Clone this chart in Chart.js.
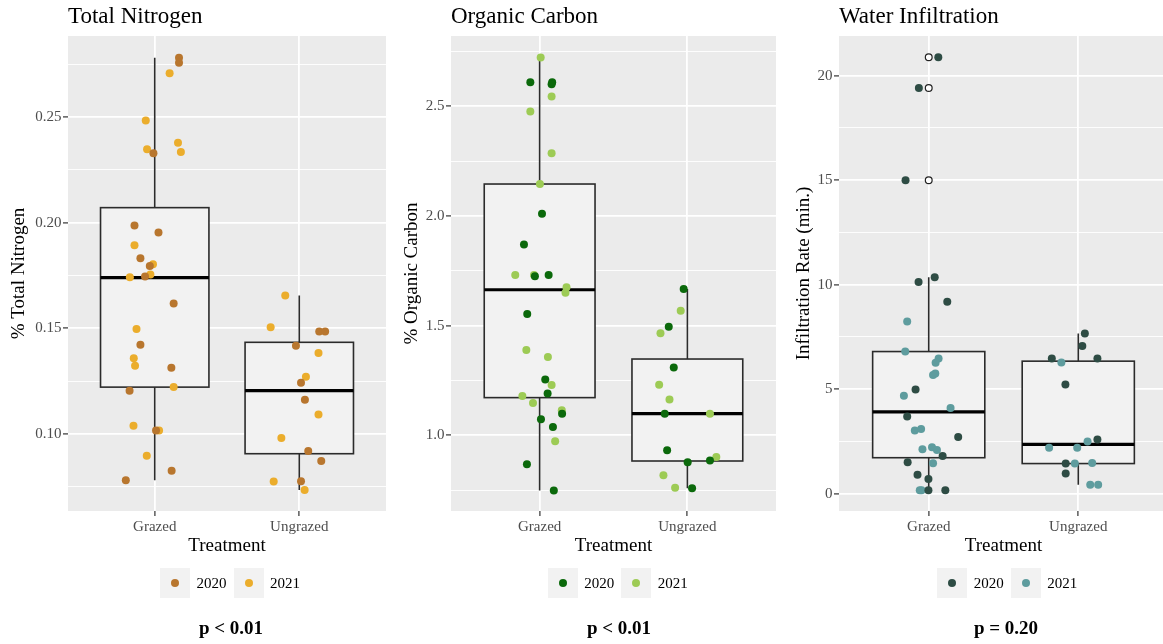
<!DOCTYPE html>
<html>
<head>
<meta charset="utf-8">
<script src="https://cdn.jsdelivr.net/npm/chart.js@4.4.0/dist/chart.umd.min.js"></script>
<style>
  html, body { margin: 0; padding: 0; background: #fff; }
  body { width: 1163px; height: 644px; overflow: hidden; position: relative;
         font-family: 'Liberation Serif', 'Times New Roman', serif; }
  .panel { position: absolute; top: 0; height: 644px; }
  .panel canvas { position: absolute; left: 0; top: 0; }
  .title { position: absolute; top: 4px; font-size: 23px; line-height: 23px; color: #000; white-space: nowrap; }
  .legend { position: absolute; top: 568px; height: 30px; }
  .key { position: absolute; top: 0; width: 30px; height: 30px; background: #F2F2F2; }
  .key i { position: absolute; left: 11px; top: 11px; width: 8px; height: 8px; border-radius: 50%; }
  .lab { position: absolute; top: 0; font-size: 15px; line-height: 30px; color: #000; white-space: nowrap; }
  .pval { position: absolute; top: 618px; font-size: 19px; line-height: 19px; font-weight: bold;
          transform: translateX(-50%); white-space: nowrap; color: #000; }
</style>
</head>
<body>
<script>
const FONT = "'Liberation Serif', 'Times New Roman', serif";

const categories = ['Grazed', 'Ungrazed'];
const years = ['2020', '2021'];

// Observations: [treatment index, horizontal jitter, value]
const nitrogen2020 = [
  [0, 0.168, 0.278], [0, 0.168, 0.2757], [0, -0.009, 0.2328], [0, -0.140, 0.1986], [0, 0.026, 0.1953],
  [0, -0.099, 0.1832], [0, -0.034, 0.1795], [0, -0.067, 0.1745], [0, 0.131, 0.1618], [0, -0.099, 0.1422],
  [0, 0.115, 0.1314], [0, -0.174, 0.1205], [0, 0.009, 0.1017], [0, 0.117, 0.0826], [0, -0.200, 0.0782],
  [1, 0.138, 0.1485], [1, 0.179, 0.1485], [1, -0.023, 0.1418], [1, 0.012, 0.1243], [1, 0.039, 0.1162],
  [1, 0.062, 0.0920], [1, 0.152, 0.0872], [1, 0.012, 0.0777]
];
const nitrogen2021 = [
  [0, 0.103, 0.2707], [0, -0.062, 0.2483], [0, -0.053, 0.2347], [0, 0.161, 0.2378], [0, 0.181, 0.2334],
  [0, -0.140, 0.1893], [0, -0.012, 0.1803], [0, -0.172, 0.1742], [0, -0.030, 0.1755], [0, -0.126, 0.1497],
  [0, -0.145, 0.1358], [0, -0.136, 0.1323], [0, 0.131, 0.1222], [0, -0.147, 0.1039], [0, 0.030, 0.1017],
  [0, -0.055, 0.0897],
  [1, -0.097, 0.1655], [1, -0.198, 0.1505], [1, 0.133, 0.1383], [1, 0.046, 0.1271], [1, 0.133, 0.1093],
  [1, -0.124, 0.0981], [1, -0.177, 0.0776], [1, 0.037, 0.0735]
];
// Box statistics per treatment: [lower whisker, Q1, median, Q3, upper whisker]
const nitrogenBox = [[0.0782, 0.1222, 0.174, 0.2071, 0.278], [0.0735, 0.0907, 0.1205, 0.1434, 0.1655]];
const nitrogenOutliers = [[], []];
const nitrogenTicks = [0.10, 0.15, 0.20, 0.25];
const nitrogenMinor = [0.075, 0.125, 0.175, 0.225, 0.275];

const carbon2020 = [
  [0, -0.063, 2.610], [0, 0.085, 2.610], [0, 0.081, 2.601], [0, 0.016, 2.011], [0, -0.106, 1.870],
  [0, -0.032, 1.725], [0, 0.061, 1.731], [0, -0.084, 1.553], [0, 0.038, 1.255], [0, 0.054, 1.191],
  [0, 0.152, 1.099], [0, 0.009, 1.073], [0, 0.090, 1.038], [0, -0.086, 0.868], [0, 0.096, 0.748],
  [1, -0.025, 1.667], [1, -0.126, 1.495], [1, -0.092, 1.309], [1, -0.153, 1.099], [1, -0.137, 0.932],
  [1, 0.002, 0.877], [1, 0.153, 0.885], [1, 0.032, 0.759]
];
const carbon2021 = [
  [0, 0.007, 2.7235], [0, 0.081, 2.545], [0, -0.063, 2.477], [0, 0.081, 2.286], [0, 0.002, 2.146],
  [0, -0.165, 1.731], [0, -0.038, 1.731], [0, 0.182, 1.675], [0, 0.175, 1.650], [0, -0.090, 1.389],
  [0, 0.056, 1.357], [0, 0.081, 1.229], [0, -0.117, 1.179], [0, -0.045, 1.147], [0, 0.150, 1.114],
  [0, 0.105, 0.973],
  [1, -0.045, 1.568], [1, -0.182, 1.466], [1, -0.191, 1.231], [1, -0.121, 1.164], [1, 0.153, 1.099],
  [1, 0.196, 0.901], [1, -0.162, 0.818], [1, -0.083, 0.761]
];
const carbonBox = [[0.748, 1.172, 1.664, 2.146, 2.7235], [0.759, 0.883, 1.099, 1.348, 1.667]];
const carbonOutliers = [[], []];
const carbonTicks = [1.0, 1.5, 2.0, 2.5];
const carbonMinor = [0.75, 1.25, 1.75, 2.25, 2.75];

const water2020 = [
  [0, 0.064, 20.88], [0, -0.066, 19.41], [0, -0.155, 15.0], [0, 0.040, 10.35], [0, -0.068, 10.13],
  [0, 0.124, 9.18], [0, -0.088, 4.98], [0, -0.144, 3.69], [0, 0.197, 2.71], [0, 0.093, 1.80],
  [0, -0.141, 1.50], [0, -0.075, 0.91], [0, -0.002, 0.70], [0, -0.002, 0.16], [0, 0.111, 0.16],
  [1, 0.044, 7.66], [1, 0.027, 7.07], [1, -0.177, 6.47], [1, 0.128, 6.47], [1, -0.086, 5.22],
  [1, 0.128, 2.59], [1, -0.084, 1.44], [1, -0.084, 0.96]
];
const water2021 = [
  [0, -0.144, 8.24], [0, -0.157, 6.80], [0, 0.066, 6.47], [0, 0.046, 6.26], [0, 0.044, 5.75],
  [0, 0.029, 5.68], [0, -0.166, 4.69], [0, 0.146, 4.10], [0, -0.093, 3.02], [0, -0.051, 3.09],
  [0, -0.042, 2.12], [0, 0.022, 2.22], [0, 0.055, 2.09], [0, 0.029, 1.45], [0, -0.060, 0.16],
  [0, -0.048, 0.16],
  [1, -0.113, 6.28], [1, -0.195, 2.20], [1, -0.007, 2.20], [1, 0.062, 2.49], [1, -0.023, 1.44],
  [1, 0.093, 1.47], [1, 0.080, 0.43], [1, 0.133, 0.43]
];
const waterBox = [[0.16, 1.72, 3.91, 6.80, 10.35], [0.43, 1.44, 2.36, 6.34, 7.66]];
const waterOutliers = [[15.0, 19.41, 20.88], []];
const waterTicks = [0, 5, 10, 15, 20];
const waterMinor = [2.5, 7.5, 12.5, 17.5];

// The third panel runs past the right edge of the page and is cut off there.
const panels = [
  { title: 'Total Nitrogen', yTitle: '% Total Nitrogen', pText: 'p < 0.01',
    obs: [nitrogen2020, nitrogen2021], box: nitrogenBox, outliers: nitrogenOutliers,
    ticks: nitrogenTicks, minor: nitrogenMinor, digits: 2, yMin: 0.0636, yMax: 0.2883,
    colors: ['#B8762E', '#EBAD2C'],
    left: 0, width: 390, axisW: 68, padR: 3, yTitlePad: 7.5, legendX: 160, pX: 231 },
  { title: 'Organic Carbon', yTitle: '% Organic Carbon', pText: 'p < 0.01',
    obs: [carbon2020, carbon2021], box: carbonBox, outliers: carbonOutliers,
    ticks: carbonTicks, minor: carbonMinor, digits: 1, yMin: 0.655, yMax: 2.821,
    colors: ['#0B690B', '#9DCB55'],
    left: 390, width: 390, axisW: 61, padR: 2, yTitlePad: 10.5, legendX: 547.7, pX: 619 },
  { title: 'Water Infiltration', yTitle: 'Infiltration Rate (min.)', pText: 'p = 0.20',
    obs: [water2020, water2021], box: waterBox, outliers: waterOutliers,
    ticks: waterTicks, minor: waterMinor, digits: 0, yMin: -0.83, yMax: 21.9,
    colors: ['#2E4C44', '#5E9C9E'],
    left: 780, width: 392, axisW: 59, padR: 0, yTitlePad: 13, legendX: 937.3, pX: 1006 }
];

// Panel background, then boxplots underneath the jittered points
const boxPlugin = {
  id: 'boxes',
  beforeDraw(chart) {
    const { ctx, chartArea: a } = chart;
    ctx.save();
    ctx.fillStyle = '#EBEBEB';
    ctx.fillRect(a.left, a.top, a.right - a.left, a.bottom - a.top);
    ctx.restore();
  },
  beforeDatasetsDraw(chart, args, opts) {
    const { ctx, scales: { x, y }, chartArea: a } = chart;
    const half = 0.375;
    ctx.save();
    ctx.beginPath();
    ctx.rect(a.left, a.top, a.right - a.left, a.bottom - a.top);
    ctx.clip();
    opts.stats.forEach((s, i) => {
      const [lo, q1, med, q3, hi] = s;
      const cx = x.getPixelForValue(i);
      const xl = x.getPixelForValue(i - half);
      const xr = x.getPixelForValue(i + half);
      ctx.strokeStyle = '#2B2B2B';
      ctx.lineWidth = 1.6;
      ctx.beginPath();
      ctx.moveTo(cx, y.getPixelForValue(hi));
      ctx.lineTo(cx, y.getPixelForValue(q3));
      ctx.moveTo(cx, y.getPixelForValue(q1));
      ctx.lineTo(cx, y.getPixelForValue(lo));
      ctx.stroke();
      const yt = y.getPixelForValue(q3), yb = y.getPixelForValue(q1);
      ctx.fillStyle = '#F2F2F2';
      ctx.fillRect(xl, yt, xr - xl, yb - yt);
      ctx.strokeRect(xl, yt, xr - xl, yb - yt);
      ctx.strokeStyle = '#000';
      ctx.lineWidth = 3.2;
      ctx.beginPath();
      const ym = y.getPixelForValue(med);
      ctx.moveTo(xl, ym);
      ctx.lineTo(xr, ym);
      ctx.stroke();
      opts.outliers[i].forEach(v => {
        ctx.beginPath();
        ctx.arc(cx, y.getPixelForValue(v), 3.4, 0, Math.PI * 2);
        ctx.fillStyle = '#fff';
        ctx.fill();
        ctx.lineWidth = 1.2;
        ctx.strokeStyle = '#222';
        ctx.stroke();
      });
    });
    ctx.restore();
  }
};

function isIn(list, v) { return list.some(t => Math.abs(t - v) < 1e-9); }

panels.forEach(p => {
  const wrap = document.createElement('div');
  wrap.className = 'panel';
  wrap.style.left = p.left + 'px';
  wrap.style.width = p.width + 'px';
  document.body.appendChild(wrap);

  const canvas = document.createElement('canvas');
  canvas.width = p.width;
  canvas.height = 644;
  wrap.appendChild(canvas);

  const title = document.createElement('div');
  title.className = 'title';
  title.style.left = p.axisW + 'px';
  title.textContent = p.title;
  wrap.appendChild(title);

  const allTicks = p.ticks.concat(p.minor).sort((a, b) => a - b);

  new Chart(canvas, {
    type: 'scatter',
    data: {
      datasets: years.map((yr, k) => ({
        label: yr,
        data: p.obs[k].map(([t, j, v]) => ({ x: t + j, y: v })),
        backgroundColor: p.colors[k],
        borderWidth: 0,
        pointRadius: 4,
        pointHoverRadius: 4
      }))
    },
    plugins: [boxPlugin],
    options: {
      responsive: false,
      animation: false,
      events: [],
      layout: { padding: { left: 0, right: p.padR, top: 36, bottom: 83 } },
      plugins: {
        legend: { display: false },
        tooltip: { enabled: false },
        boxes: { stats: p.box, outliers: p.outliers }
      },
      scales: {
        x: {
          type: 'linear', min: -0.6, max: 1.6,
          afterBuildTicks: s => { s.ticks = categories.map((c, i) => ({ value: i })); },
          afterFit: s => { s.height = 50; },
          ticks: {
            callback: v => categories[v] ?? '',
            color: '#4D4D4D', font: { family: FONT, size: 15 }, padding: 2,
            autoSkip: false, maxRotation: 0
          },
          grid: { color: '#FFFFFF', lineWidth: 1.8, tickLength: 5, tickColor: '#333333', tickWidth: 1.2 },
          border: { display: false },
          title: { display: true, text: 'Treatment', color: '#000',
                   font: { family: FONT, size: 19 }, padding: { top: 0, bottom: 4 } }
        },
        y: {
          type: 'linear', min: p.yMin, max: p.yMax,
          afterBuildTicks: s => { s.ticks = allTicks.map(v => ({ value: v })); },
          afterFit: s => { s.width = p.axisW; },
          ticks: {
            callback: v => isIn(p.ticks, v) ? v.toFixed(p.digits) : '',
            color: '#4D4D4D', font: { family: FONT, size: 15 }, padding: 1.5,
            autoSkip: false
          },
          grid: {
            color: '#FFFFFF',
            lineWidth: c => (c.tick && isIn(p.ticks, c.tick.value)) ? 1.8 : 0.9,
            tickLength: 5,
            tickWidth: 1.2,
            tickColor: c => (c.tick && isIn(p.ticks, c.tick.value)) ? '#333333' : 'rgba(0,0,0,0)'
          },
          border: { display: false },
          title: { display: true, text: p.yTitle, color: '#000',
                   font: { family: FONT, size: 19 }, padding: { top: p.yTitlePad, bottom: 0 } }
        }
      }
    }
  });

  // Legend: grey key squares with a dot, then the year label
  const leg = document.createElement('div');
  leg.className = 'legend';
  leg.style.left = (p.legendX - p.left) + 'px';
  const keyX = [0, 73.5], labX = [36.5, 110];
  years.forEach((yr, k) => {
    const key = document.createElement('div');
    key.className = 'key';
    key.style.left = keyX[k] + 'px';
    const dot = document.createElement('i');
    dot.style.background = p.colors[k];
    key.appendChild(dot);
    leg.appendChild(key);
    const lab = document.createElement('div');
    lab.className = 'lab';
    lab.style.left = labX[k] + 'px';
    lab.textContent = yr;
    leg.appendChild(lab);
  });
  wrap.appendChild(leg);

  const pv = document.createElement('div');
  pv.className = 'pval';
  pv.style.left = (p.pX - p.left) + 'px';
  pv.textContent = p.pText;
  wrap.appendChild(pv);
});
</script>
</body>
</html>
